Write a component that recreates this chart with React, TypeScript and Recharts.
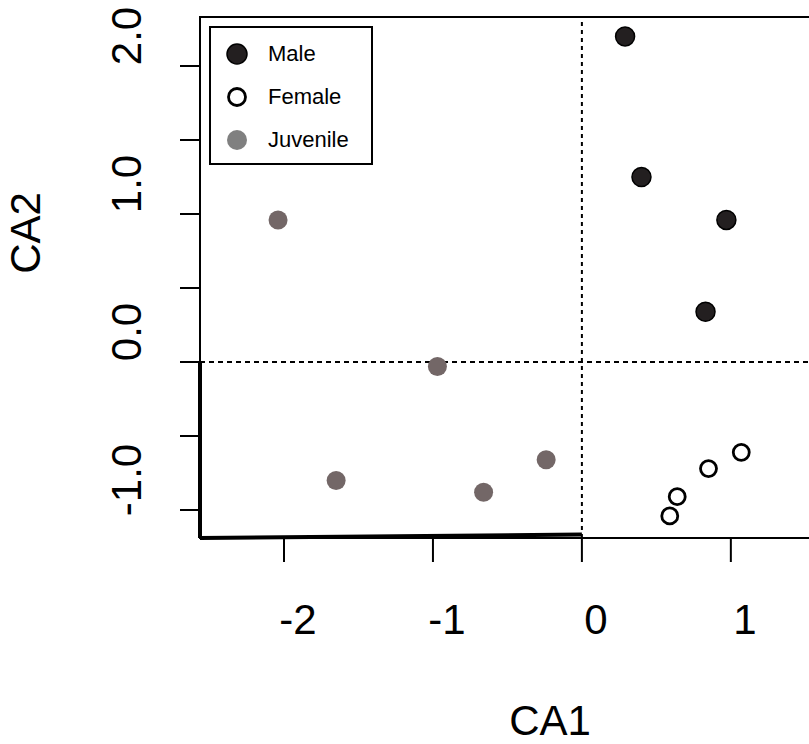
import {
  ScatterChart,
  Scatter,
  XAxis,
  YAxis,
  ReferenceLine,
  ReferenceArea,
} from "recharts";

// ─── Data ─────────────────────────────────────────
const maleX = [0.29, 0.4, 0.97, 0.83];
const maleY = [2.2, 1.25, 0.96, 0.34];

const femaleX = [1.07, 0.85, 0.64, 0.59];
const femaleY = [-0.61, -0.72, -0.91, -1.04];

const juvenileX = [-2.04, -0.97, -1.65, -0.66, -0.24];
const juvenileY = [0.96, -0.03, -0.8, -0.88, -0.66];

const xTicks = [-2, -1, 0, 1];
const yTicks = [-1, -0.5, 0, 0.5, 1, 1.5, 2];
const yLabelTicks = [-1, 0, 1, 2];

const xDomain: [number, number] = [-2.564, 1.8];
const yDomain: [number, number] = [-1.189, 2.331];

const toPoints = (xs: number[], ys: number[]) => xs.map((x, i) => ({ x, y: ys[i] }));

const maleData = toPoints(maleX, maleY);
const femaleData = toPoints(femaleX, femaleY);
const juvenileData = toPoints(juvenileX, juvenileY);

const FONT = "'Liberation Sans', Arial, Helvetica, sans-serif";

// ─── Marks ────────────────────────────────────────
const maleShape = (p: any) => (
  <circle cx={p.cx} cy={p.cy} r={9.5} fill="#231f20" stroke="#000" strokeWidth={1.5} />
);
const femaleShape = (p: any) => (
  <circle cx={p.cx} cy={p.cy} r={8} fill="#fff" stroke="#000" strokeWidth={2.8} />
);
const juvenileShape = (p: any) => (
  <circle cx={p.cx} cy={p.cy} r={9.5} fill="#736767" />
);

const legendItems = [
  { name: "Male", fill: "#231f20", stroke: "#000", sw: 1.5 },
  { name: "Female", fill: "#fff", stroke: "#000", sw: 2.8 },
  { name: "Juvenile", fill: "#808080", stroke: "none", sw: 0 },
];

// ─── Ticks ────────────────────────────────────────
function XTick(props: any) {
  const { x, y, payload } = props;
  return (
    <text x={x + 14} y={y + 70} textAnchor="middle" fontSize={42} fontFamily={FONT} fill="#000">
      {payload.value}
    </text>
  );
}

function YTick(props: any) {
  const { x, y, payload } = props;
  if (!yLabelTicks.includes(payload.value)) return null;
  const tx = x - 37;
  const ty = y - 30;
  return (
    <text
      x={tx}
      y={ty}
      textAnchor="middle"
      fontSize={42}
      fontFamily={FONT}
      fill="#000"
      transform={`rotate(-90, ${tx}, ${ty})`}
    >
      {payload.value.toFixed(1)}
    </text>
  );
}

export default function App() {
  return (
    <div
      style={{
        position: "absolute",
        left: 0,
        top: 0,
        width: 809,
        height: 744,
        overflow: "hidden",
        background: "#fff",
      }}
    >
      <ScatterChart width={860} height={744} margin={{ top: 17, right: 10, left: 0, bottom: 106 }}>
        <XAxis
          type="number"
          dataKey="x"
          domain={xDomain}
          ticks={xTicks}
          allowDataOverflow
          height={100}
          axisLine={false}
          tickSize={24}
          tickLine={{ stroke: "#000", strokeWidth: 2 }}
          tick={<XTick />}
          label={{
            value: "CA1",
            position: "insideBottom",
            content: (lp: any) => (
              <text x={550} y={735} textAnchor="middle" fontSize={42} fontFamily={FONT} fill="#000">
                CA1
              </text>
            ),
          }}
        />
        <YAxis
          type="number"
          dataKey="y"
          domain={yDomain}
          ticks={yTicks}
          allowDataOverflow
          width={200}
          axisLine={false}
          tickSize={20}
          tickLine={{ stroke: "#000", strokeWidth: 2 }}
          tick={<YTick />}
          label={{
            value: "CA2",
            position: "left",
            content: () => (
              <text
                x={40}
                y={233}
                textAnchor="middle"
                fontSize={42}
                fontFamily={FONT}
                fill="#000"
                transform="rotate(-90, 40, 233)"
              >
                CA2
              </text>
            ),
          }}
        />

        <ReferenceArea
          x1={xDomain[0]}
          x2={xDomain[1]}
          y1={yDomain[0]}
          y2={yDomain[1]}
          fill="none"
          fillOpacity={0}
          stroke="#000"
          strokeWidth={2}
          ifOverflow="visible"
        />
        <ReferenceLine x={0} stroke="#000" strokeWidth={2} strokeDasharray="4 4" />
        <ReferenceLine y={0} stroke="#000" strokeWidth={2} strokeDasharray="5 4" />
        <ReferenceLine
          segment={[
            { x: xDomain[0], y: 0 },
            { x: xDomain[0], y: yDomain[0] },
          ]}
          stroke="#000"
          strokeWidth={4}
          ifOverflow="visible"
        />
        <ReferenceLine
          segment={[
            { x: xDomain[0], y: yDomain[0] },
            { x: 0, y: -1.166 },
          ]}
          stroke="#000"
          strokeWidth={4}
          ifOverflow="visible"
        />

        <Scatter name="Male" data={maleData} shape={maleShape} isAnimationActive={false} />
        <Scatter name="Female" data={femaleData} shape={femaleShape} isAnimationActive={false} />
        <Scatter name="Juvenile" data={juvenileData} shape={juvenileShape} isAnimationActive={false} />
      </ScatterChart>

      <div
        style={{
          position: "absolute",
          left: 209,
          top: 26,
          width: 160,
          height: 135,
          border: "2px solid #000",
          background: "#fff",
          fontFamily: FONT,
          fontSize: 22,
          color: "#000",
        }}
      >
        {legendItems.map((it, i) => (
          <div
            key={it.name}
            style={{
              position: "absolute",
              left: 14,
              top: 13 + i * 43,
              height: 26,
              display: "flex",
              alignItems: "center",
            }}
          >
            <svg width={24} height={24} style={{ display: "block" }}>
              <circle cx={12} cy={12} r={it.name === "Female" ? 8.5 : 10} fill={it.fill} stroke={it.stroke} strokeWidth={it.sw} />
            </svg>
            <span style={{ marginLeft: 19, lineHeight: "26px" }}>{it.name}</span>
          </div>
        ))}
      </div>
    </div>
  );
}
